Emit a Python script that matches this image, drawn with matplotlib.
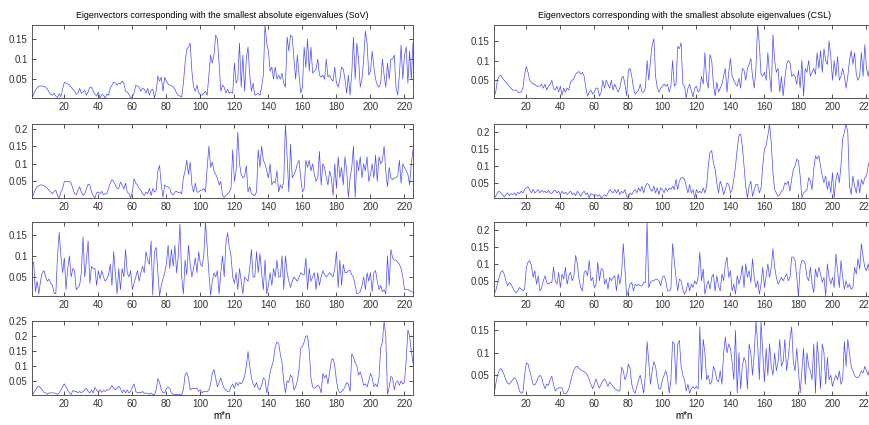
import matplotlib
matplotlib.use("Agg")
import matplotlib.pyplot as plt
from matplotlib.ticker import MultipleLocator, FormatStrFormatter
import numpy as np

# eigenvector magnitudes, index m*n = 1..225
sov_1 = [0.003, 0.012, 0.022, 0.028, 0.032, 0.033, 0.033, 0.032, 0.03, 0.025,
         0.018, 0.012, 0.01, 0.015, 0.008, 0.004, 0.014, 0.006, 0.025, 0.042,
         0.04, 0.038, 0.035, 0.03, 0.025, 0.02, 0.012, 0.015, 0.027, 0.015,
         0.018, 0.022, 0.01, 0.018, 0.03, 0.03, 0.02, 0.012, 0.008, 0.018,
         0.003, 0.012, 0.01, 0.003, 0.013, 0.01, 0.028, 0.035, 0.042, 0.04,
         0.035, 0.04, 0.038, 0.045, 0.04, 0.02, 0.018, 0.012, 0.003, 0.005,
         0.015, 0.035, 0.033, 0.03, 0.02, 0.028, 0.025, 0.015, 0.027, 0.01,
         0.022, 0.025, 0.003, 0.02, 0.058, 0.045, 0.055, 0.02, 0.055, 0.045,
         0.038, 0.035, 0.035, 0.03, 0.025, 0.015, 0.01, 0.008, 0.005, 0.04,
         0.09, 0.125, 0.13, 0.14, 0.07, 0.03, 0.02, 0.035, 0.015, 0.012,
         0.01, 0.015, 0.02, 0.01, 0.06, 0.11, 0.09, 0.11, 0.16, 0.15,
         0.09, 0.02, 0.035, 0.03, 0.015, 0.025, 0.015, 0.018, 0.015, 0.09,
         0.04, 0.05, 0.14, 0.03, 0.11, 0.02, 0.1, 0.13, 0.06, 0.02,
         0.04, 0.01, 0.012, 0.015, 0.01, 0.03, 0.06, 0.185, 0.14, 0.12,
         0.07, 0.08, 0.05, 0.08, 0.05, 0.06, 0.05, 0.065, 0.04, 0.03,
         0.155, 0.12, 0.16, 0.155, 0.1, 0.05, 0.11, 0.06, 0.015, 0.03,
         0.13, 0.08, 0.15, 0.07, 0.13, 0.065, 0.07, 0.075, 0.1, 0.06,
         0.055, 0.06, 0.05, 0.1, 0.055, 0.06, 0.05, 0.045, 0.08, 0.04,
         0.03, 0.05, 0.08, 0.075, 0.05, 0.015, 0.06, 0.01, 0.065, 0.155,
         0.05, 0.14, 0.1, 0.03, 0.05, 0.1, 0.17, 0.14, 0.06, 0.07,
         0.12, 0.08, 0.05, 0.035, 0.03, 0.04, 0.1, 0.06, 0.03, 0.09,
         0.05, 0.1, 0.1, 0.11, 0.03, 0.01, 0.06, 0.135, 0.05, 0.11,
         0.13, 0.04, 0.12, 0.05, 0.14]

sov_2 = [0.003, 0.015, 0.028, 0.035, 0.038, 0.04, 0.04, 0.038, 0.035, 0.03,
         0.025, 0.02, 0.015, 0.022, 0.025, 0.01, 0.003, 0.02, 0.03, 0.05,
         0.05, 0.05, 0.05, 0.045, 0.03, 0.015, 0.012, 0.025, 0.035, 0.02,
         0.01, 0.015, 0.03, 0.042, 0.04, 0.02, 0.01, 0.003, 0.018, 0.02,
         0.015, 0.022, 0.012, 0.015, 0.015, 0.03, 0.045, 0.055, 0.05, 0.04,
         0.03, 0.03, 0.048, 0.04, 0.028, 0.045, 0.02, 0.015, 0.003, 0.02,
         0.058, 0.045, 0.04, 0.03, 0.025, 0.015, 0.01, 0.02, 0.015, 0.03,
         0.01, 0.03, 0.02, 0.025, 0.08, 0.095, 0.04, 0.005, 0.04, 0.035,
         0.035, 0.03, 0.015, 0.012, 0.02, 0.022, 0.018, 0.02, 0.015, 0.06,
         0.08, 0.11, 0.07, 0.105, 0.04, 0.02, 0.045, 0.02, 0.02, 0.025,
         0.025, 0.03, 0.02, 0.09, 0.15, 0.09, 0.105, 0.08, 0.07, 0.06,
         0.04, 0.05, 0.01, 0.005, 0.01, 0.015, 0.02, 0.03, 0.14, 0.05,
         0.08, 0.19, 0.1, 0.07, 0.06, 0.065, 0.095, 0.02, 0.035, 0.015,
         0.012, 0.01, 0.02, 0.14, 0.09, 0.15, 0.11, 0.1, 0.08, 0.06,
         0.1, 0.04, 0.05, 0.045, 0.08, 0.02, 0.04, 0.03, 0.05, 0.213,
         0.12, 0.02, 0.155, 0.06, 0.07, 0.08, 0.1, 0.11, 0.06, 0.02,
         0.03, 0.11, 0.09, 0.11, 0.08, 0.1, 0.07, 0.05, 0.06, 0.135,
         0.04, 0.1, 0.09, 0.06, 0.04, 0.08, 0.06, 0.01, 0.1, 0.03,
         0.12, 0.06, 0.09, 0.04, 0.12, 0.08, 0.005, 0.06, 0.09, 0.15,
         0.005, 0.11, 0.08, 0.12, 0.06, 0.1, 0.08, 0.12, 0.05, 0.07,
         0.1, 0.06, 0.125, 0.05, 0.12, 0.1, 0.11, 0.15, 0.08, 0.035,
         0.09, 0.06, 0.055, 0.06, 0.06, 0.065, 0.11, 0.045, 0.1, 0.09,
         0.08, 0.07, 0.04, 0.1, 0.14]

sov_3 = [0.08, 0.085, 0.015, 0.04, 0.01, 0.04, 0.06, 0.065, 0.05, 0.04,
         0.045, 0.035, 0.03, 0.012, 0.01, 0.1, 0.155, 0.1, 0.06, 0.095,
         0.02, 0.07, 0.1, 0.05, 0.07, 0.065, 0.02, 0.025, 0.03, 0.06,
         0.145, 0.05, 0.09, 0.135, 0.035, 0.075, 0.07, 0.07, 0.03, 0.065,
         0.045, 0.065, 0.05, 0.04, 0.045, 0.055, 0.08, 0.03, 0.11, 0.06,
         0.01, 0.07, 0.02, 0.07, 0.05, 0.115, 0.06, 0.05, 0.065, 0.02,
         0.035, 0.05, 0.065, 0.04, 0.06, 0.075, 0.06, 0.11, 0.09, 0.08,
         0.135, 0.007, 0.11, 0.12, 0.06, 0.005, 0.03, 0.045, 0.06, 0.08,
         0.125, 0.07, 0.115, 0.075, 0.125, 0.06, 0.1, 0.175, 0.05, 0.01,
         0.09, 0.055, 0.125, 0.08, 0.05, 0.07, 0.095, 0.06, 0.11, 0.08,
         0.075, 0.1, 0.18, 0.12, 0.06, 0.007, 0.04, 0.06, 0.05, 0.065,
         0.01, 0.06, 0.1, 0.05, 0.13, 0.155, 0.12, 0.1, 0.05, 0.035,
         0.06, 0.02, 0.07, 0.04, 0.01, 0.05, 0.045, 0.04, 0.07, 0.115,
         0.05, 0.05, 0.11, 0.06, 0.105, 0.06, 0.02, 0.09, 0.01, 0.03,
         0.06, 0.03, 0.07, 0.05, 0.09, 0.05, 0.05, 0.1, 0.02, 0.1,
         0.06, 0.04, 0.025, 0.04, 0.05, 0.045, 0.04, 0.05, 0.06, 0.055,
         0.055, 0.095, 0.02, 0.07, 0.04, 0.05, 0.06, 0.02, 0.06, 0.03,
         0.05, 0.065, 0.055, 0.05, 0.055, 0.06, 0.055, 0.05, 0.07, 0.11,
         0.025, 0.09, 0.03, 0.08, 0.06, 0.06, 0.065, 0.065, 0.055, 0.05,
         0.03, 0.01, 0.012, 0.015, 0.03, 0.05, 0.02, 0.06, 0.04, 0.06,
         0.015, 0.06, 0.065, 0.04, 0.02, 0.03, 0.015, 0.02, 0.01, 0.1,
         0.03, 0.115, 0.095, 0.09, 0.09, 0.085, 0.08, 0.07, 0.05, 0.02,
         0.02, 0.02, 0.018, 0.015, 0.014]

sov_4 = [0.003, 0.01, 0.02, 0.028, 0.032, 0.028, 0.02, 0.012, 0.01, 0.005,
         0.01, 0.01, 0.01, 0.01, 0.008, 0.005, 0.01, 0.02, 0.03, 0.04,
         0.03, 0.02, 0.01, 0.005, 0.018, 0.015, 0.015, 0.01, 0.015, 0.01,
         0.015, 0.02, 0.025, 0.015, 0.01, 0.02, 0.01, 0.028, 0.02, 0.012,
         0.02, 0.012, 0.018, 0.015, 0.02, 0.02, 0.025, 0.035, 0.025, 0.02,
         0.025, 0.032, 0.025, 0.01, 0.02, 0.01, 0.02, 0.01, 0.015, 0.03,
         0.04, 0.015, 0.01, 0.012, 0.01, 0.015, 0.008, 0.01, 0.008, 0.005,
         0.01, 0.005, 0.003, 0.02, 0.058, 0.045, 0.02, 0.01, 0.01, 0.025,
         0.03, 0.025, 0.01, 0.005, 0.005, 0.005, 0.005, 0.005, 0.005, 0.02,
         0.07, 0.078, 0.06, 0.02, 0.025, 0.025, 0.025, 0.025, 0.015, 0.02,
         0.01, 0.015, 0.015, 0.015, 0.02, 0.04, 0.075, 0.088, 0.06, 0.03,
         0.045, 0.06, 0.04, 0.025, 0.02, 0.015, 0.015, 0.03, 0.04, 0.025,
         0.045, 0.035, 0.045, 0.04, 0.05, 0.065, 0.1, 0.148, 0.1, 0.06,
         0.04, 0.03, 0.045, 0.025, 0.02, 0.035, 0.06, 0.055, 0.01, 0.04,
         0.08, 0.1, 0.12, 0.165, 0.18, 0.175, 0.14, 0.11, 0.05, 0.01,
         0.05, 0.045, 0.07, 0.06, 0.02, 0.03, 0.05, 0.09, 0.16, 0.165,
         0.18, 0.2, 0.2, 0.15, 0.06, 0.03, 0.025, 0.03, 0.035, 0.03,
         0.01, 0.075, 0.06, 0.07, 0.04, 0.08, 0.12, 0.125, 0.1, 0.05,
         0.02, 0.01, 0.015, 0.02, 0.03, 0.045, 0.04, 0.015, 0.14, 0.13,
         0.11, 0.1, 0.07, 0.08, 0.06, 0.035, 0.04, 0.03, 0.05, 0.075,
         0.06, 0.03, 0.04, 0.03, 0.06, 0.16, 0.18, 0.25, 0.2, 0.005,
         0.03, 0.065, 0.06, 0.02, 0.045, 0.05, 0.035, 0.05, 0.04, 0.045,
         0.12, 0.22, 0.2, 0.15, 0.11]

csl_1 = [0.008, 0.02, 0.05, 0.06, 0.063, 0.055, 0.05, 0.045, 0.04, 0.035,
         0.03, 0.025, 0.025, 0.025, 0.02, 0.018, 0.02, 0.03, 0.065, 0.085,
         0.07, 0.05, 0.045, 0.04, 0.04, 0.035, 0.035, 0.035, 0.04, 0.03,
         0.04, 0.025, 0.035, 0.04, 0.05, 0.03, 0.025, 0.035, 0.02, 0.035,
         0.012, 0.03, 0.02, 0.03, 0.025, 0.045, 0.05, 0.055, 0.065, 0.07,
         0.072, 0.065, 0.07, 0.06, 0.03, 0.01, 0.02, 0.025, 0.015, 0.02,
         0.03, 0.03, 0.01, 0.02, 0.05, 0.03, 0.05, 0.04, 0.03, 0.05,
         0.025, 0.04, 0.03, 0.02, 0.03, 0.055, 0.06, 0.04, 0.01, 0.075,
         0.08, 0.06, 0.03, 0.015, 0.02, 0.025, 0.04, 0.02, 0.02, 0.03,
         0.1, 0.05, 0.1, 0.14, 0.155, 0.06, 0.03, 0.02, 0.03, 0.035,
         0.04, 0.035, 0.04, 0.02, 0.035, 0.1, 0.035, 0.04, 0.135, 0.13,
         0.145, 0.04, 0.035, 0.005, 0.03, 0.04, 0.025, 0.008, 0.03, 0.035,
         0.02, 0.025, 0.06, 0.04, 0.12, 0.05, 0.03, 0.115, 0.1, 0.04,
         0.01, 0.045, 0.02, 0.03, 0.04, 0.06, 0.08, 0.02, 0.07, 0.105,
         0.06, 0.05, 0.04, 0.035, 0.055, 0.03, 0.08, 0.075, 0.05, 0.08,
         0.09, 0.105, 0.06, 0.03, 0.08, 0.19, 0.14, 0.065, 0.06, 0.07,
         0.05, 0.12, 0.065, 0.02, 0.165, 0.1, 0.07, 0.08, 0.02, 0.06,
         0.01, 0.055, 0.09, 0.1, 0.095, 0.06, 0.065, 0.06, 0.04, 0.075,
         0.03, 0.1, 0.01, 0.08, 0.07, 0.1, 0.06, 0.07, 0.08, 0.065,
         0.12, 0.08, 0.125, 0.07, 0.13, 0.1, 0.09, 0.15, 0.11, 0.05,
         0.1, 0.06, 0.11, 0.05, 0.06, 0.08, 0.06, 0.03, 0.06, 0.1,
         0.125, 0.09, 0.12, 0.065, 0.05, 0.06, 0.12, 0.06, 0.14, 0.08,
         0.06, 0.09, 0.1, 0.07, 0.08]

csl_2 = [0.005, 0.01, 0.02, 0.025, 0.02, 0.015, 0.008, 0.015, 0.02, 0.012,
         0.018, 0.015, 0.02, 0.012, 0.022, 0.018, 0.025, 0.02, 0.03, 0.035,
         0.038, 0.03, 0.02, 0.03, 0.02, 0.025, 0.03, 0.02, 0.028, 0.022,
         0.025, 0.02, 0.028, 0.02, 0.018, 0.025, 0.028, 0.02, 0.025, 0.015,
         0.025, 0.018, 0.022, 0.015, 0.02, 0.025, 0.015, 0.02, 0.012, 0.025,
         0.018, 0.01, 0.02, 0.025, 0.015, 0.02, 0.005, 0.018, 0.015, 0.012,
         0.015, 0.01, 0.015, 0.005, 0.01, 0.015, 0.01, 0.02, 0.03, 0.025,
         0.02, 0.03, 0.02, 0.03, 0.015, 0.025, 0.02, 0.03, 0.01, 0.005,
         0.02, 0.015, 0.025, 0.03, 0.02, 0.035, 0.025, 0.04, 0.02, 0.04,
         0.048, 0.045, 0.03, 0.025, 0.04, 0.02, 0.035, 0.015, 0.035, 0.03,
         0.02, 0.035, 0.025, 0.035, 0.03, 0.04, 0.03, 0.06, 0.03, 0.055,
         0.065, 0.065, 0.06, 0.04, 0.02, 0.045, 0.02, 0.03, 0.005, 0.03,
         0.02, 0.025, 0.02, 0.035, 0.02, 0.04, 0.1, 0.14, 0.145, 0.11,
         0.09, 0.05, 0.02, 0.055, 0.04, 0.015, 0.03, 0.05, 0.045, 0.02,
         0.03, 0.06, 0.1, 0.15, 0.19, 0.195, 0.16, 0.1, 0.04, 0.005,
         0.04, 0.055, 0.01, 0.03, 0.045, 0.045, 0.02, 0.035, 0.1, 0.15,
         0.16, 0.19, 0.224, 0.17, 0.08, 0.03, 0.02, 0.01, 0.015, 0.025,
         0.03, 0.05, 0.045, 0.055, 0.025, 0.06, 0.09, 0.1, 0.12, 0.115,
         0.07, 0.005, 0.02, 0.025, 0.03, 0.065, 0.055, 0.03, 0.09, 0.13,
         0.12, 0.13, 0.1, 0.07, 0.05, 0.07, 0.03, 0.055, 0.02, 0.08,
         0.005, 0.06, 0.08, 0.05, 0.1, 0.18, 0.2, 0.224, 0.2, 0.04,
         0.015, 0.07, 0.04, 0.02, 0.06, 0.02, 0.06, 0.045, 0.065, 0.07,
         0.1, 0.12, 0.08, 0.06, 0.05]

csl_3 = [0.01, 0.02, 0.04, 0.06, 0.075, 0.08, 0.07, 0.05, 0.035, 0.045,
         0.04, 0.03, 0.02, 0.015, 0.02, 0.03, 0.025, 0.02, 0.025, 0.09,
         0.105, 0.11, 0.095, 0.06, 0.08, 0.04, 0.065, 0.02, 0.03, 0.05,
         0.065, 0.045, 0.04, 0.045, 0.045, 0.09, 0.05, 0.04, 0.075, 0.03,
         0.07, 0.055, 0.09, 0.04, 0.065, 0.075, 0.05, 0.065, 0.125, 0.1,
         0.055, 0.03, 0.02, 0.075, 0.08, 0.065, 0.11, 0.05, 0.06, 0.03,
         0.04, 0.105, 0.05, 0.085, 0.085, 0.04, 0.055, 0.025, 0.06, 0.05,
         0.06, 0.065, 0.02, 0.07, 0.04, 0.07, 0.16, 0.08, 0.005, 0.02,
         0.04, 0.045, 0.02, 0.04, 0.035, 0.04, 0.035, 0.035, 0.045, 0.045,
         0.224, 0.03, 0.045, 0.05, 0.05, 0.055, 0.055, 0.05, 0.035, 0.06,
         0.065, 0.05, 0.02, 0.02, 0.025, 0.16, 0.11, 0.06, 0.02, 0.055,
         0.05, 0.025, 0.01, 0.02, 0.045, 0.02, 0.04, 0.03, 0.05, 0.04,
         0.06, 0.135, 0.05, 0.085, 0.01, 0.035, 0.05, 0.025, 0.06, 0.07,
         0.02, 0.065, 0.035, 0.02, 0.07, 0.05, 0.1, 0.12, 0.06, 0.08,
         0.02, 0.04, 0.01, 0.065, 0.04, 0.06, 0.095, 0.03, 0.1, 0.06,
         0.08, 0.045, 0.115, 0.06, 0.03, 0.05, 0.01, 0.04, 0.09, 0.03,
         0.065, 0.1, 0.06, 0.09, 0.145, 0.09, 0.06, 0.04, 0.05, 0.06,
         0.05, 0.06, 0.07, 0.05, 0.06, 0.12, 0.12, 0.11, 0.06, 0.005,
         0.09, 0.11, 0.11, 0.1, 0.06, 0.05, 0.09, 0.04, 0.015, 0.085,
         0.06, 0.09, 0.07, 0.045, 0.06, 0.005, 0.1, 0.06, 0.04, 0.06,
         0.03, 0.13, 0.08, 0.03, 0.11, 0.06, 0.025, 0.05, 0.03, 0.04,
         0.025, 0.03, 0.09, 0.07, 0.115, 0.085, 0.16, 0.12, 0.09, 0.08,
         0.1, 0.07, 0.06, 0.05, 0.05]

csl_4 = [0.006, 0.03, 0.05, 0.06, 0.065, 0.06, 0.05, 0.04, 0.032, 0.03,
         0.035, 0.04, 0.045, 0.04, 0.03, 0.015, 0.01, 0.012, 0.05, 0.078,
         0.075, 0.06, 0.045, 0.03, 0.028, 0.035, 0.045, 0.05, 0.045, 0.03,
         0.02, 0.03, 0.028, 0.04, 0.048, 0.03, 0.015, 0.02, 0.022, 0.022,
         0.022, 0.01, 0.008, 0.012, 0.02, 0.035, 0.05, 0.062, 0.068, 0.07,
         0.065, 0.062, 0.06, 0.058, 0.055, 0.05, 0.04, 0.03, 0.02, 0.03,
         0.042, 0.03, 0.022, 0.03, 0.038, 0.042, 0.035, 0.025, 0.035, 0.03,
         0.025, 0.02, 0.018, 0.015, 0.015, 0.068, 0.06, 0.04, 0.05, 0.075,
         0.065, 0.03, 0.015, 0.01, 0.025, 0.04, 0.05, 0.03, 0.01, 0.05,
         0.125, 0.08, 0.03, 0.06, 0.08, 0.07, 0.04, 0.02, 0.02, 0.04,
         0.05, 0.06, 0.045, 0.01, 0.04, 0.125, 0.12, 0.03, 0.12, 0.128,
         0.07, 0.05, 0.04, 0.015, 0.03, 0.01, 0.02, 0.025, 0.02, 0.025,
         0.02, 0.158, 0.04, 0.13, 0.1, 0.04, 0.05, 0.03, 0.035, 0.07,
         0.06, 0.04, 0.035, 0.06, 0.03, 0.1, 0.135, 0.1, 0.12, 0.11,
         0.08, 0.04, 0.15, 0.01, 0.1, 0.02, 0.07, 0.09, 0.08, 0.02,
         0.12, 0.1, 0.05, 0.1, 0.171, 0.12, 0.04, 0.17, 0.1, 0.035,
         0.11, 0.05, 0.12, 0.07, 0.05, 0.1, 0.06, 0.08, 0.13, 0.07,
         0.08, 0.13, 0.06, 0.09, 0.13, 0.158, 0.08, 0.06, 0.11, 0.06,
         0.01, 0.06, 0.11, 0.03, 0.1, 0.07, 0.06, 0.04, 0.12, 0.01,
         0.125, 0.08, 0.02, 0.12, 0.1, 0.03, 0.09, 0.04, 0.05, 0.025,
         0.04, 0.05, 0.04, 0.06, 0.03, 0.04, 0.125, 0.07, 0.13, 0.1,
         0.07, 0.06, 0.05, 0.045, 0.045, 0.05, 0.06, 0.055, 0.07, 0.06,
         0.05, 0.07, 0.08, 0.07, 0.06]

x_ticks = [20, 40, 60, 80, 100, 120, 140, 160, 180, 200, 220]
titles = ["Eigenvectors corresponding with the smallest absolute eigenvalues (SoV)",
          "Eigenvectors corresponding with the smallest absolute eigenvalues (CSL)"]
x_label = "m*n"

plt.rcParams['font.family'] = ['Liberation Sans Narrow', 'Liberation Sans', 'DejaVu Sans']

fig = plt.figure(figsize=(8.69, 4.25), dpi=100)
W, H = 869.0, 425.0

# pixel boxes (top, bottom) of the four rows and the left edges of the two columns
rows = [(25, 98), (124, 198), (222, 296), (321, 395)]
cols = [32, 494]
ax_w = 381

columns = [[sov_1, sov_2, sov_3, sov_4], [csl_1, csl_2, csl_3, csl_4]]

for c, (left, series) in enumerate(zip(cols, columns)):
    for r, ((top, bot), y) in enumerate(zip(rows, series)):
        ax = fig.add_axes([left / W, 1 - bot / H, ax_w / W, (bot - top) / H])
        y = np.array(y)
        x = np.arange(1, len(y) + 1)
        ax.plot(x, y, color='#4a4aff', lw=0.5)
        ax.set_xlim(1, 225)
        ax.set_ylim(y.min(), y.max())
        ax.set_xticks(x_ticks)
        ax.yaxis.set_major_locator(MultipleLocator(0.05))
        ax.yaxis.set_major_formatter(FormatStrFormatter('%g'))
        ax.tick_params(direction='in', length=3, width=0.6, top=True, right=True,
                       labelsize=7, pad=3, colors='#333333')
        for s in ax.spines.values():
            s.set_color('#555555')
            s.set_linewidth(0.7)
        if r == 0:
            ax.set_title(titles[c], fontsize=6.4, pad=5)
        if r == 3:
            ax.set_xlabel(x_label, fontsize=7, labelpad=1)

fig.savefig("out.png", dpi=100)
